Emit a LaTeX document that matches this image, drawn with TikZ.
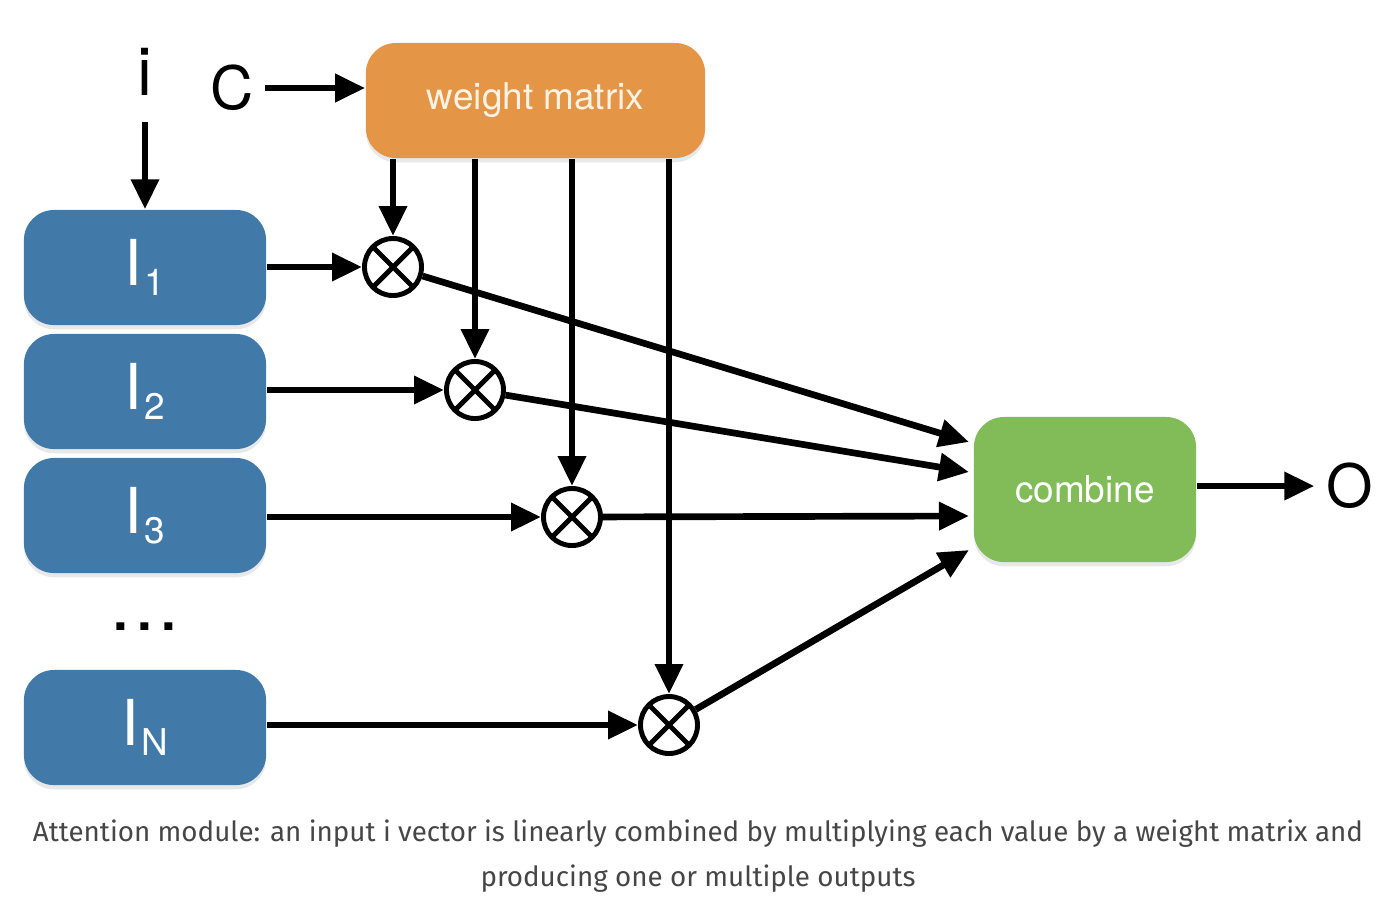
\documentclass[tikz,border=0pt]{standalone}
\usepackage{fontspec}
\setmainfont{TeX Gyre Heros}
\newfontfamily\capfont{Fira Sans}
\usetikzlibrary{arrows.meta,shadows,calc}
\definecolor{boxblue}{RGB}{65,121,169}
\definecolor{boxorange}{RGB}{229,149,70}
\definecolor{boxgreen}{RGB}{130,188,89}
\definecolor{captext}{RGB}{70,70,70}
\newcommand{\Ilab}[1]{\fontsize{18}{20}\selectfont I\kern0.6pt\raisebox{-0.3ex}{\fontsize{10.5}{12}\selectfont #1}}
\begin{document}
\begin{tikzpicture}[x=0.01cm,y=-0.01cm,
  rbox/.style={rounded corners=0.3cm, text=white, inner sep=0pt,
    drop shadow={shadow xshift=0pt, shadow yshift=-1.2pt, opacity=0.18}},
  ibox/.style={rbox, fill=boxblue, minimum width=2.42cm, minimum height=1.15cm},
  arr/.style={line width=1.9pt, -{Triangle[length=0.3cm,width=0.27cm]}},
  mult/.style={circle, draw, line width=1.4pt, minimum size=0.57cm, inner sep=0pt,
    path picture={\draw[line width=1.4pt] (path picture bounding box.north west) -- (path picture bounding box.south east)
                  (path picture bounding box.north east) -- (path picture bounding box.south west);}},
  lab/.style={font=\fontsize{17}{19}\selectfont}
]
\useasboundingbox (0,0) rectangle (1394,920);

% input boxes
\node[ibox] (I1) at (145,267.5) {\Ilab{1}};
\node[ibox] (I2) at (145,391.5) {\Ilab{2}};
\node[ibox] (I3) at (145,515.5) {\Ilab{3}};
\node[ibox] (IN) at (145,727.5) {\Ilab{N}};
\node[font=\fontsize{15}{16}\selectfont\bfseries] (dots) at (145,627) {.\hspace{2.6pt}.\hspace{2.6pt}.};

% weight matrix and combine
\node[rbox, fill=boxorange, text={rgb,255:red,252;green,243;blue,230}, minimum width=3.39cm, minimum height=1.15cm,
  font=\fontsize{10.5}{12}\selectfont] (wm) at (535.5,100.5) {weight matrix};
\node[rbox, fill=boxgreen, minimum width=2.22cm, minimum height=1.45cm,
  font=\fontsize{10.5}{12}\selectfont] (cb) at (1085,489.5) {combine};

% labels
\node[lab, font=\fontsize{19}{20}\selectfont] (ilab) at (145,72) {i};
\node[lab] (clab) at (232,88) {C};
\node[lab] (olab) at (1350,486) {O};

% multipliers
\node[mult] (c1) at (393,267) {};
\node[mult] (c2) at (475,390) {};
\node[mult] (c3) at (572,517) {};
\node[mult] (c4) at (669,725) {};

% arrows
\draw[arr] ([yshift=-0.5cm]ilab.center) -- (I1.north);
\draw[arr] ([xshift=0.33cm]clab.center) -- (wm.west |- clab);

\draw[arr] (wm.south -| c1) -- (c1);
\draw[arr] (wm.south -| c2) -- (c2);
\draw[arr] (wm.south -| c3) -- (c3);
\draw[arr] (wm.south -| c4) -- (c4);

\draw[arr] (I1.east |- c1) -- (c1);
\draw[arr] (I2.east |- c2) -- (c2);
\draw[arr] (I3.east |- c3) -- (c3);
\draw[arr] (IN.east |- c4) -- (c4);

\coordinate (e1) at (969,442);
\coordinate (e2) at (969,472);
\coordinate (e3) at (969,516);
\coordinate (e4) at (969,550);
\draw[arr] (c1) -- (e1);
\draw[arr] (c2) -- (e2);
\draw[arr] (c3) -- (e3);
\draw[arr] (c4) -- (e4);

\draw[arr] (cb.east |- olab) -- (olab.west);

% caption
\node[font=\capfont\fontsize{7.9}{12.8}\selectfont, text=captext, align=center] (cap) at (698,856)
  {Attention module: an input i vector is linearly combined by multiplying each value by a weight matrix and\\
   producing one or multiple outputs};
\end{tikzpicture}
\end{document}
